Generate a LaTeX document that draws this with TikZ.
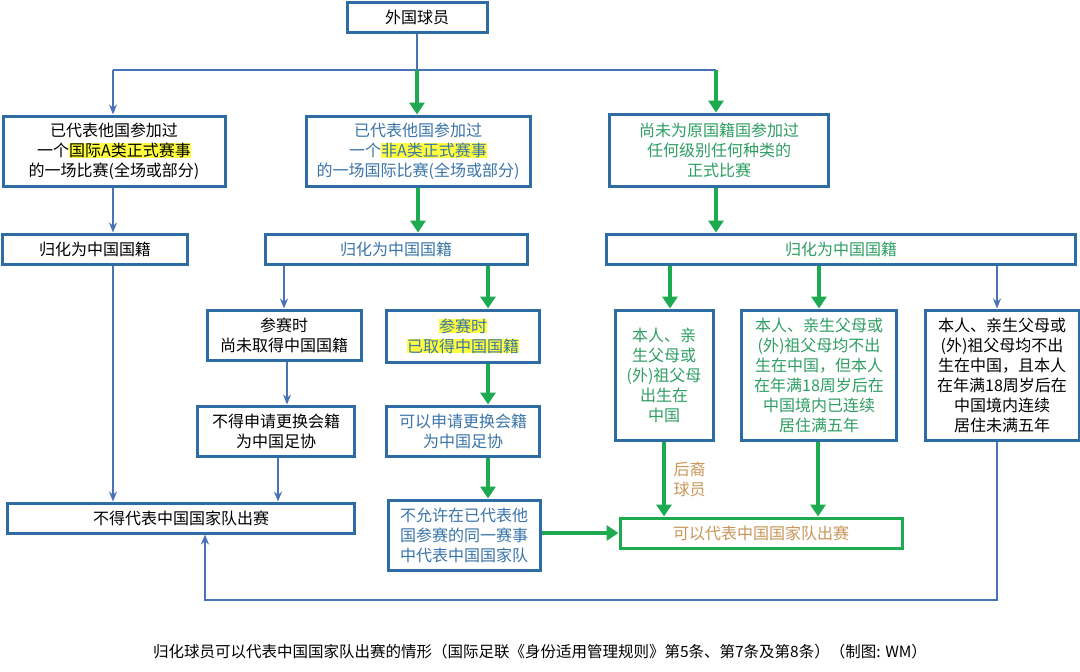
\documentclass[tikz,border=0pt]{standalone}
\usepackage{fontspec}
\setmainfont{Noto Sans CJK SC}
\usetikzlibrary{arrows.meta,positioning}
\definecolor{boxblue}{HTML}{2E6DA4}
\definecolor{lineblue}{HTML}{4A72B8}
\definecolor{arrgreen}{HTML}{1DAA50}
\definecolor{txtblue}{HTML}{3A74A8}
\definecolor{txtgreen}{HTML}{2E9E63}
\definecolor{txtorange}{HTML}{C8965A}
\definecolor{hl}{HTML}{FFFF40}
\newcommand{\hlt}[1]{{\setlength\fboxsep{0pt}\colorbox{hl}{#1}}}

\begin{document}
\begin{tikzpicture}[x=1pt,y=-1pt,
  every node/.style={font=\fontsize{16}{20}\selectfont},
  box/.style={
    draw=boxblue,
    line width=3pt,
    inner sep=3pt,
    align=center,
    fill=white
  },
  bluearrow/.style={
    -{Stealth[length=10pt,width=8pt]},
    draw=lineblue,
    line width=2pt
  },
  greenarrow/.style={
    -{Triangle[length=12pt,width=15pt]},
    draw=arrgreen,
    line width=4.5pt
  }
]
\useasboundingbox (0,0) rectangle (1080,672);

% ------------------------------------------------
% Top rows
% ------------------------------------------------
\node[box, minimum width=140pt, minimum height=30pt] (player) at (417,17) {外国球员};

\node[box, minimum width=222pt, minimum height=70pt] (playedA) at (114,151)
  {已代表他国参加过\\一个\hlt{国际A类正式赛事}\\的一场比赛(全场或部分)};
\node[box, minimum width=224pt, minimum height=70pt, text=txtblue] (playedB) at (418,151)
  {已代表他国参加过\\一个\hlt{非A类正式赛事}\\的一场国际比赛(全场或部分)};
\node[box, minimum width=219pt, minimum height=72pt, text=txtgreen] (never) at (719,150)
  {尚未为原国籍国参加过\\任何级别任何种类的\\正式比赛};

\node[box, minimum width=185pt, minimum height=30pt] (natA) at (95,249) {归化为中国国籍};
\node[box, minimum width=262pt, minimum height=30pt, text=txtblue] (natB) at (396,249) {归化为中国国籍};
\node[box, minimum width=469pt, minimum height=30pt, text=txtgreen] (natC) at (841,249) {归化为中国国籍};

% ------------------------------------------------
% Middle branch
% ------------------------------------------------
\node[box, minimum width=154pt, minimum height=50pt] (notyet) at (284,335) {参赛时\\尚未取得中国国籍};
\node[box, minimum width=153pt, minimum height=52pt, text=txtblue] (already) at (463,336)
  {\hlt{参赛时}\\\hlt{已取得中国国籍}};
\node[box, minimum width=157pt, minimum height=50pt] (noswitch) at (276,431) {不得申请更换会籍\\为中国足协};
\node[box, minimum width=153pt, minimum height=50pt, text=txtblue] (canswitch) at (463,431) {可以申请更换会籍\\为中国足协};
\node[box, minimum width=347pt, minimum height=30pt] (cannot) at (181,518) {不得代表中国国家队出赛};
\node[box, minimum width=152pt, minimum height=70pt, text=txtblue] (notsame) at (464,535)
  {不允许在已代表他\\国参赛的同一赛事\\中代表中国国家队};

% ------------------------------------------------
% Right branch
% ------------------------------------------------
\node[box, minimum width=98pt, minimum height=130pt, text=txtgreen] (born) at (664,375)
  {本人、亲\\生父母或\\(外)祖父母\\出生在\\中国};
\node[box, minimum width=155pt, minimum height=130pt, text=txtgreen] (lived) at (819,375)
  {本人、亲生父母或\\(外)祖父母均不出\\生在中国，但本人\\在年满18周岁后在\\中国境内已连续\\居住满五年};
\node[box, minimum width=154pt, minimum height=130pt] (short) at (1002,375)
  {本人、亲生父母或\\(外)祖父母均不出\\生在中国，且本人\\在年满18周岁后在\\中国境内连续\\居住未满五年};
\node[box, draw=arrgreen, minimum width=282pt, minimum height=30pt, text=txtorange] (can) at (761,533) {可以代表中国国家队出赛};

\coordinate (split) at (417,70);
\coordinate (loop) at (997,600);

% ------------------------------------------------
% Arrows
% ------------------------------------------------
\draw[draw=lineblue, line width=2pt] (player.south) -- (split);
\draw[draw=lineblue, line width=2pt] (113,70) -- (716,70);
\draw[bluearrow] (113,70) -- (playedA.north -| 113,0);
\draw[greenarrow] (split) -- (playedB.north -| split);
\draw[greenarrow] (716,70) -- (never.north -| 716,0);

\draw[bluearrow] (playedA.south -| 113,0) -- (natA.north -| 113,0);
\draw[bluearrow] (natA.south -| 113,0) -- (cannot.north -| 113,0);
\draw[greenarrow] (playedB.south) -- (natB.north -| playedB.south);
\draw[greenarrow] (never.south -| 716,0) -- (natC.north -| 716,0);

\draw[bluearrow] (natB.south -| notyet.north) -- (notyet.north);
\draw[greenarrow] (natB.south -| 488,0) -- (already.north -| 488,0);
\draw[bluearrow] (notyet.south -| 287,0) -- (noswitch.north -| 287,0);
\draw[bluearrow] (noswitch.south -| 278,0) -- (cannot.north -| 278,0);
\draw[greenarrow] (already.south -| 488,0) -- (canswitch.north -| 488,0);
\draw[greenarrow] (canswitch.south -| 488,0) -- (notsame.north -| 488,0);
\draw[greenarrow] (notsame.east |- can.west) -- (can.west);

\draw[greenarrow] (natC.south -| 670,0) -- (born.north -| 670,0);
\draw[greenarrow] (natC.south -| lived.north) -- (lived.north);
\draw[bluearrow] (natC.south -| 997,0) -- (short.north -| 997,0);
\draw[greenarrow] (born.south -| 664,0) -- node[right=4pt, text=txtorange, align=left]{后裔\\球员} (can.north -| 664,0);
\draw[greenarrow] (lived.south -| 818,0) -- (can.north -| 818,0);
\draw[bluearrow] (short.south -| loop) -- (loop) -- (205,600) -- (cannot.south -| 205,0);

\node[font=\fontsize{15.5}{18}\selectfont] (caption) at (540,652)
  {归化球员可以代表中国国家队出赛的情形（国际足联《身份适用管理规则》第5条、第7条及第8条）（制图: WM）};
\end{tikzpicture}
\end{document}
